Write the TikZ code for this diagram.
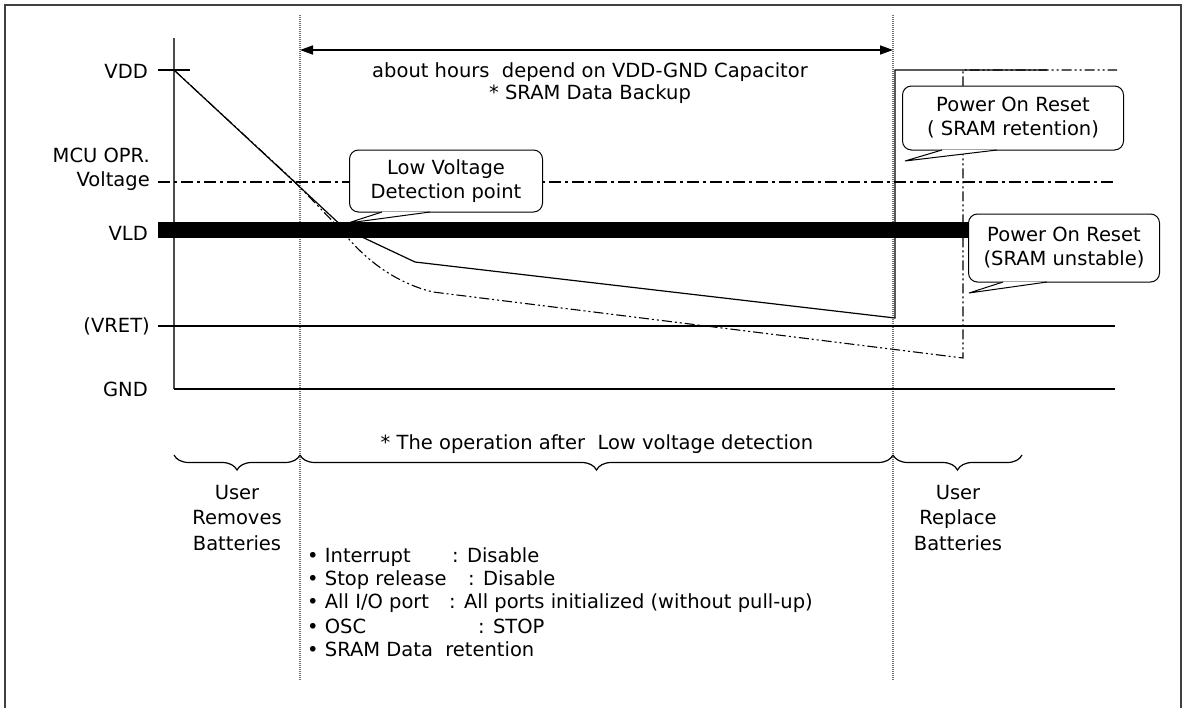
\documentclass[tikz,border=0pt]{standalone}
\usepackage{fontspec}
\setmainfont{DejaVu Sans}
\usetikzlibrary{arrows.meta,decorations.pathreplacing,calc}
\begin{document}
\begin{tikzpicture}[x=1pt,y=-1pt,
  font=\fontsize{19.5}{24}\selectfont,
  lbl/.style={inner sep=0pt, align=center},
  frm/.style={line width=1.5pt, draw=black!75},
  axis/.style={line width=1.5pt, draw=black!70},
  hline/.style={line width=1.2pt},
  curve/.style={line width=1.2pt},
  ddot/.style={line width=1.1pt, dash pattern=on 10pt off 3pt on 2pt off 3pt on 2pt off 3pt},
  ddash/.style={line width=1.1pt, dash pattern=on 12pt off 4pt on 3pt off 4pt},
  vdot/.style={line width=1.2pt, draw=black!55, dash pattern=on 1pt off 1pt},
  callout/.style={draw, fill=white, rounded corners=9pt, line width=1pt, align=center, inner sep=0pt},
  pointer/.style={line width=1pt},
  brc/.style={line width=1.2pt, decorate, decoration={brace, mirror, amplitude=15pt, aspect=0.5}},
  dim/.style={line width=1.6pt, {Triangle[length=13pt,width=9pt]}-{Triangle[length=13pt,width=9pt]}},
  user/.style={lbl, font=\fontsize{19.5}{25.5}\selectfont}
]
\useasboundingbox (0,0) rectangle (1185,707);
% frame
\draw[frm] (5,715) -- (5,5) -- (1181,5) -- (1181,715);

% vertical dotted time markers
\coordinate (t1top) at (300,15);
\coordinate (t1bot) at (300,680);
\coordinate (t2top) at (893,15);
\coordinate (t2bot) at (893,680);
\draw[vdot] (t1top) -- (t1bot);
\draw[vdot] (t2top) -- (t2bot);

% axis and level lines
\coordinate (axtop) at (174,38);
\coordinate (axbot) at (174,389);
\draw[axis] (axtop) -- (axbot);
\draw[hline] (158,70) -- (190,70);
\draw[ddash] (158,182) -- (1115,182);
\draw[hline] (158,326) -- (1115,326);
\draw[hline] (axbot) -- (1115,389);
\draw[line width=16pt] (158,230) -- (970,230);

% level labels
\node[lbl, anchor=east] (vdd) at (148,71) {VDD};
\node[lbl, anchor=east, align=right] (mcu) at (150,169) {MCU OPR.\\Voltage};
\node[lbl, anchor=east] (vld) at (148,233) {VLD};
\node[lbl, anchor=east] (vret) at (150,326) {(VRET)};
\node[lbl, anchor=east] (gnd) at (148,389) {GND};

% curves
\draw[curve] (174,70) -- (345,229) -- (415,262) -- (895,318) -- (895,70) -- (1047,70);
\draw[ddot] (174,70) -- (295,182) -- (343,232) .. controls (362,256) and (392,282) .. (433,292) -- (963,358) -- (963,70) -- (1117,70);

% duration arrow
\coordinate (a1) at (300,50);
\coordinate (a2) at (893,50);
\draw[dim] (a1) -- (a2);
\node[lbl] (dur1) at (590,72) {about hours~ depend on VDD-GND Capacitor};
\node[lbl] (dur2) at (590,94) {* SRAM Data Backup};

% callouts
\node[callout, minimum width=193pt, minimum height=62pt] (lvd) at (446,181) {Low Voltage\\Detection point};
\coordinate (lvdA) at (382,212);
\coordinate (lvdT) at (348,223);
\coordinate (lvdB) at (430,212);
\fill[white] (lvdA) -- (lvdT) -- (lvdB) -- cycle;
\draw[pointer] (lvdA) -- (lvdT) -- (lvdB);

\node[callout, minimum width=221pt, minimum height=64pt] (por1) at (1013,118) {Power On Reset\\( SRAM retention)};
\coordinate (p1A) at (942,150);
\coordinate (p1T) at (905,161);
\coordinate (p1B) at (997,150);
\fill[white] (p1A) -- (p1T) -- (p1B) -- cycle;
\draw[pointer] (p1A) -- (p1T) -- (p1B);

\node[callout, minimum width=191pt, minimum height=68pt] (por2) at (1064,248) {Power On Reset\\(SRAM unstable)};
\coordinate (p2A) at (1003,282);
\coordinate (p2T) at (969,293);
\coordinate (p2B) at (1047,282);
\fill[white] (p2A) -- (p2T) -- (p2B) -- cycle;
\draw[pointer] (p2A) -- (p2T) -- (p2B);

% braces
\coordinate (b0) at (174,455);
\coordinate (b1) at (300,455);
\coordinate (b2) at (893,455);
\coordinate (b3) at (1022,455);
\draw[brc] (b0) -- (b1);
\draw[brc] (b1) -- (b2);
\draw[brc] (b2) -- (b3);

\node[lbl] (oper) at (597,444) {* The operation after~ Low voltage detection};
\node[user] (remove) at (237,518) {User\\Removes\\Batteries};
\node[user] (replace) at (958,518) {User\\Replace\\Batteries};

% bullet list
\node[lbl, anchor=west] (l1) at (307,557) {\makebox[145pt][l]{• Interrupt}: Disable};
\node[lbl, anchor=west] (l2) at (307,580) {\makebox[161pt][l]{• Stop release}: Disable};
\node[lbl, anchor=west] (l3) at (307,603) {\makebox[142pt][l]{• All I/O port}: All ports initialized (without pull-up)};
\node[lbl, anchor=west] (l4) at (307,626) {\makebox[171pt][l]{• OSC}: STOP};
\node[lbl, anchor=west] (l5) at (307,649) {• SRAM Data~ retention};
\end{tikzpicture}
\end{document}
